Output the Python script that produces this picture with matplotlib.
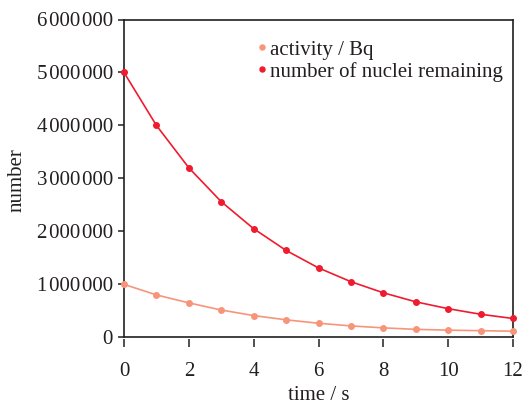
import numpy as np
import matplotlib.pyplot as plt
from matplotlib.ticker import FuncFormatter

# data
time_s = [0, 1, 2, 3, 4, 5, 6, 7, 8, 9, 10, 11, 12]
nuclei = [5000000, 4000000, 3200000, 2560000, 2050000, 1640000, 1310000,
          1050000, 840000, 670000, 540000, 435000, 355000]
activity = [1000000, 800000, 650000, 515000, 410000, 330000, 265000,
            215000, 178000, 150000, 135000, 125000, 115000]

red = "#ee1c2e"
salmon = "#f7957b"
ink = "#231f20"

plt.rcParams['font.family'] = ['Liberation Serif', 'DejaVu Serif']
plt.rcParams['font.size'] = 15

fig = plt.figure(figsize=(5.26, 4.07), dpi=100)
ax = fig.add_axes([124/526, 69.7/407, 389/526, 317.8/407])

ax.plot(time_s, activity, color=salmon, lw=1.2, marker='o', ms=4,
        label='activity / Bq', clip_on=False, zorder=3)
ax.plot(time_s, nuclei, color=red, lw=1.2, marker='o', ms=4,
        label='number of nuclei remaining', clip_on=False, zorder=4)

ax.set_xlim(0, 12)
ax.set_ylim(0, 6000000)
ax.set_xticks(range(0, 13, 2))
ax.set_yticks(range(0, 6000001, 1000000))

def fmt(v, pos):
    return f"{int(v):,}".replace(",", "\u200a")

ax.yaxis.set_major_formatter(FuncFormatter(fmt))

# x ticks sit slightly below the zero line
ax.spines['bottom'].set_position(('outward', 1.5))
ax.spines['bottom'].set_visible(False)
ax.axhline(0, color=ink, lw=1.2, clip_on=False, zorder=2)
for s in ['left', 'right', 'top']:
    ax.spines[s].set_color(ink)
    ax.spines[s].set_linewidth(1.2)

ax.tick_params(axis='x', length=6, width=1.1, color=ink, pad=10,
               labelcolor=ink)
ax.tick_params(axis='y', length=4.5, width=1.1, color=ink, pad=3.5,
               labelcolor=ink)

ax.set_xlabel('time / s', color=ink, labelpad=4)
ax.set_ylabel('number', color=ink)
ax.yaxis.set_label_coords(-0.25, 0.495)

leg = ax.legend(loc='upper left', bbox_to_anchor=(0.345, 0.935),
                frameon=False, handlelength=0.4, handletextpad=0.15,
                labelspacing=0.1, borderpad=0, borderaxespad=0,
                markerscale=0.9)
for h in leg.legend_handles:
    h.set_linestyle('none')
for t in leg.get_texts():
    t.set_color(ink)

plt.savefig('out.png', dpi=100)
